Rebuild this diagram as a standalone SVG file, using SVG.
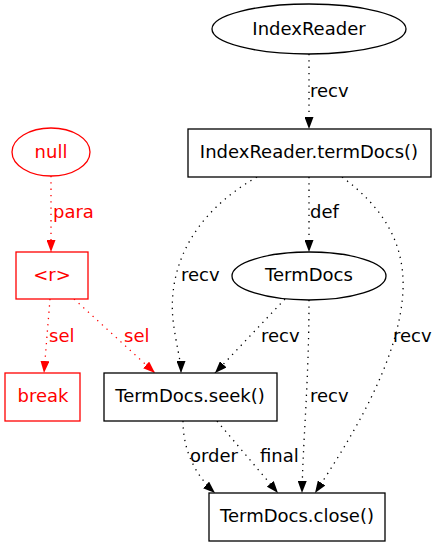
<svg xmlns="http://www.w3.org/2000/svg" width="437" height="547" viewBox="0 0 437 547">
<defs>
<marker id="ab" viewBox="0 0 12 9" refX="12" refY="4.5" markerWidth="12" markerHeight="9" markerUnits="userSpaceOnUse" orient="auto"><path d="M0,0 L12,4.5 L0,9 Z" fill="#000"/></marker>
<marker id="ar" viewBox="0 0 12 9" refX="12" refY="4.5" markerWidth="12" markerHeight="9" markerUnits="userSpaceOnUse" orient="auto"><path d="M0,0 L12,4.5 L0,9 Z" fill="#f00"/></marker>
<style>
text{font-family:"DejaVu Sans",sans-serif;font-size:18px}
.n{fill:#fff;stroke:#000;stroke-width:1.3}
.nr{fill:#fff;stroke:#f00;stroke-width:1.3}
.c{text-anchor:middle}
.r{fill:#f00}
.e{fill:none;stroke:#000;stroke-width:1.3;stroke-dasharray:1.3,5;marker-end:url(#ab)}
.er{fill:none;stroke:#f00;stroke-width:1.3;stroke-dasharray:1.3,5;marker-end:url(#ar)}
</style>
</defs>
<g id="edges">
<path class="e" d="M309,54 L309,129"/>
<text x="310" y="97">recv</text>
<path class="e" d="M309,177 L309,252"/>
<text x="310" y="218">def</text>
<path class="e" d="M257,177 C190,215 168,270 173,320 C176,345 181,360 181,373"/>
<text x="181" y="281">recv</text>
<path class="e" d="M342,177 C380,205 405,240 403,290 C400,360 350,440 315,493"/>
<text x="393" y="342">recv</text>
<path class="e" d="M285,299 L215,373"/>
<text x="261" y="342">recv</text>
<path class="e" d="M309,300 C309,380 303,440 302,493"/>
<text x="310" y="402">recv</text>
<path class="e" d="M183,421 C183,450 195,475 215,493"/>
<text x="190" y="462">order</text>
<path class="e" d="M217,421 L278,493"/>
<text x="260" y="462">final</text>
<path class="er" d="M51,176 L51,252"/>
<text class="r" x="53" y="218">para</text>
<path class="er" d="M50,299 L44,373"/>
<text class="r" x="49" y="342">sel</text>
<path class="er" d="M74,299 L155,373"/>
<text class="r" x="124" y="342">sel</text>
</g>
<g id="IndexReader"><ellipse class="n" cx="309" cy="29" rx="97" ry="25"/><text class="c" x="309" y="35">IndexReader</text></g>
<g id="termDocs"><rect class="n" x="188" y="129" width="243" height="48"/><text class="c" x="309" y="158">IndexReader.termDocs()</text></g>
<g id="null"><ellipse class="nr" cx="51" cy="152" rx="39" ry="24"/><text class="c r" x="51" y="158">null</text></g>
<g id="r"><rect class="nr" x="16" y="252" width="72" height="47"/><text class="c r" x="52" y="281">&lt;r&gt;</text></g>
<g id="TermDocs"><ellipse class="n" cx="309" cy="276" rx="77" ry="24"/><text class="c" x="309" y="281">TermDocs</text></g>
<g id="break"><rect class="nr" x="5" y="373" width="75" height="48"/><text class="c r" x="43" y="402">break</text></g>
<g id="seek"><rect class="n" x="104" y="373" width="173" height="48"/><text class="c" x="190" y="402">TermDocs.seek()</text></g>
<g id="close"><rect class="n" x="209" y="493" width="176" height="48"/><text class="c" x="297" y="522">TermDocs.close()</text></g>
</svg>
